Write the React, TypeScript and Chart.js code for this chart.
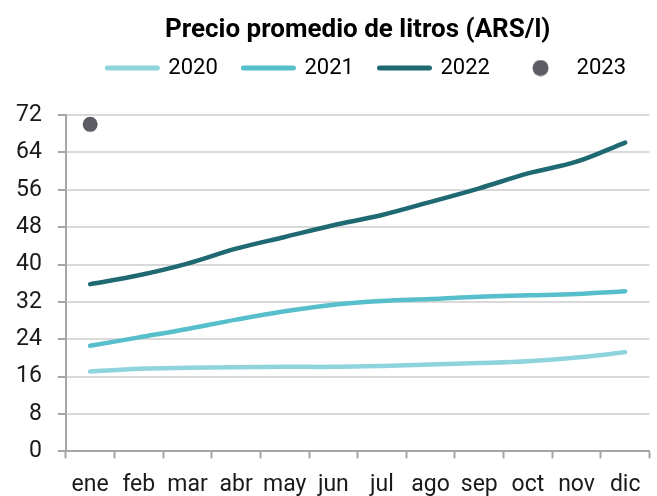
import React, { useEffect, useRef } from "react";
import { Chart, registerables } from "chart.js";

Chart.register(...registerables);

const months = ["ene", "feb", "mar", "abr", "may", "jun", "jul", "ago", "sep", "oct", "nov", "dic"];
const seriesNames = ["2020", "2021", "2022", "2023"];
const values2020 = [17.1, 17.7, 17.9, 18.0, 18.1, 18.1, 18.3, 18.6, 18.9, 19.3, 20.1, 21.2];
const values2021 = [22.6, 24.4, 26.2, 28.2, 30.0, 31.4, 32.2, 32.6, 33.1, 33.4, 33.7, 34.3];
const values2022 = [35.8, 37.7, 40.2, 43.4, 45.9, 48.4, 50.6, 53.4, 56.3, 59.5, 62.0, 66.1];
const values2023 = [70.0, null, null, null, null, null, null, null, null, null, null, null];
const yMin = 0;
const yMax = 72;
const yStep = 8;

const colors = ["#8fd4dd", "#57bfcc", "#1f6a72", "#5d5c64"];

export default function App() {
  const ref = useRef<HTMLCanvasElement | null>(null);

  useEffect(() => {
    if (!ref.current) return;

    const dot = document.createElement("canvas");
    dot.width = 17;
    dot.height = 17;
    const dctx = dot.getContext("2d");
    if (dctx) {
      dctx.fillStyle = colors[3];
      dctx.beginPath();
      dctx.arc(8.5, 8.5, 8, 0, Math.PI * 2);
      dctx.fill();
    }

    const legendSpacer = {
      id: "legendSpacer",
      beforeInit(chart: any) {
        const legend = chart.legend;
        if (!legend) return;
        const orig = legend.fit;
        legend.fit = function () {
          orig.call(this);
          this.height += 26;
        };
      },
      afterLayout(chart: any) {
        const legend = chart.legend;
        if (!legend) return;
        legend.left += 9;
        legend.right += 9;
      },
    };

    const lineDs = (label: string, data: number[], color: string) => ({
      label,
      data,
      borderColor: color,
      backgroundColor: color,
      borderWidth: 4.5,
      borderCapStyle: "round" as const,
      borderJoinStyle: "round" as const,
      pointRadius: 0,
      pointHoverRadius: 0,
      tension: 0.35,
      fill: false,
    });

    const chart = new Chart(ref.current, {
      type: "line",
      data: {
        labels: months,
        datasets: [
          lineDs(seriesNames[0], values2020, colors[0]),
          lineDs(seriesNames[1], values2021, colors[1]),
          lineDs(seriesNames[2], values2022, colors[2]),
          {
            label: seriesNames[3],
            data: values2023,
            borderColor: colors[3],
            backgroundColor: colors[3],
            pointBackgroundColor: colors[3],
            pointBorderColor: colors[3],
            pointRadius: 7.5,
            pointBorderWidth: 0,
            showLine: false,
          },
        ],
      },
      options: {
        animation: false,
        responsive: false,
        maintainAspectRatio: false,
        layout: { padding: { left: 0, right: 0, top: 0, bottom: 0 } },
        plugins: {
          tooltip: { enabled: false },
          title: {
            display: true,
            fullSize: false,
            text: "Precio promedio de litros (ARS/l)",
            color: "#000000",
            font: { family: "Roboto", size: 26, weight: "bold", lineHeight: 1.2 },
            padding: { top: 15, bottom: -14.8 },
          },
          legend: {
            display: true,
            fullSize: false,
            position: "top",
            labels: {
              usePointStyle: true,
              pointStyleWidth: 50,
              boxHeight: 12,
              padding: 25.6,
              color: "#000000",
              font: { family: "Roboto", size: 22 },
              generateLabels: (chart: any) => {
                const items = Chart.defaults.plugins.legend.labels.generateLabels(chart);
                return items.map((it: any, i: number) => ({
                  ...it,
                  pointStyle: i < 3 ? "line" : dot,
                  lineCap: "round",
                  lineWidth: i < 3 ? 5 : 0,
                  strokeStyle: colors[i],
                  fillStyle: colors[i],
                }));
              },
            },
          },
        },
        scales: {
          x: {
            type: "category",
            offset: true,
            grid: {
              display: true,
              offset: true,
              drawOnChartArea: false,
              drawTicks: true,
              tickLength: 7,
              tickColor: "#a6a6a6",
              tickWidth: 2,
            },
            border: { display: true, color: "#a6a6a6", width: 2 },
            ticks: {
              color: "#1a1a1a",
              padding: 13,
              maxRotation: 0,
              autoSkip: false,
              font: { family: "Roboto", size: 23 },
            },
          },
          y: {
            min: yMin,
            max: yMax,
            grid: {
              color: "#d9d9d9",
              lineWidth: 2,
              drawTicks: true,
              tickLength: 8,
              tickColor: "#a6a6a6",
              tickWidth: 2,
            },
            border: { display: true, color: "#a6a6a6", width: 2 },
            ticks: {
              stepSize: yStep,
              color: "#1a1a1a",
              padding: 16,
              font: { family: "Roboto", size: 23 },
            },
          },
        },
      },
      plugins: [legendSpacer],
    } as any);
    return () => chart.destroy();
  }, []);

  return (
    <div style={{ position: "fixed", left: 0, top: 0, width: 657, height: 496, overflow: "hidden" }}>
      <canvas ref={ref} width={657} height={512} style={{ display: "block" }} />
    </div>
  );
}
